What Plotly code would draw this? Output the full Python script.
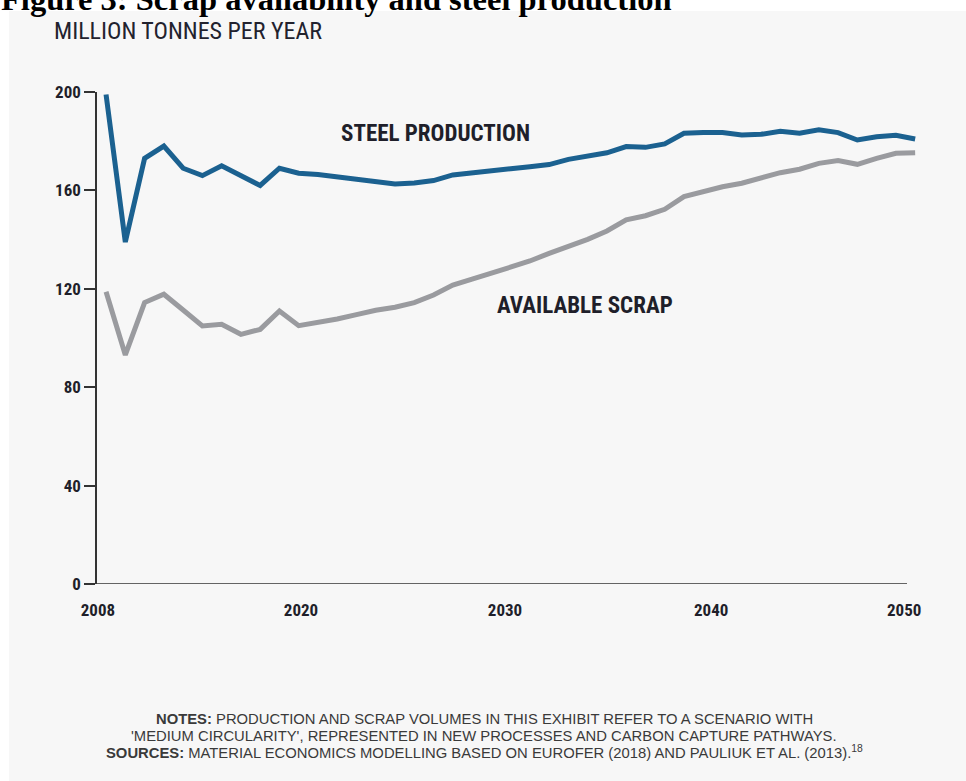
import plotly.graph_objects as go

years = list(range(2008, 2051))
steel_production = [199, 139, 173, 178, 169, 166, 170, 166, 162, 169,
                    167, 166.5, 165.5, 164.5, 164, 162.6, 163, 164, 166.3, 167.3,
                    168, 168.8, 169.6, 170.5, 172.6, 174, 175.3, 177.8, 177.5, 178.9,
                    183.2, 183.5, 183.5, 182.5, 182.8, 184, 183.2, 184.6, 183.5, 180.5,
                    181.8, 182.4, 180.9]
available_scrap = [118.8, 93.1, 114.4, 117.8, 111.4, 104.9, 105.6, 101.5, 103.5, 111.0,
                   105.0, 106.3, 107.7, 109.5, 111.3, 112.5, 114.4, 117.5, 121.5, 123.9,
                   126.3, 128.7, 131.3, 134.4, 137.1, 140.1, 143.5, 148.0, 149.7, 152.3,
                   157.5, 159.5, 161.5, 162.9, 164.9, 167.2, 168.6, 171.0, 172.1, 170.6,
                   173.0, 175.1, 175.3]
x_tick_positions = [2007.58, 2018.12, 2028.71, 2039.41, 2049.43]
x_tick_labels = ["2008", "2020", "2030", "2040", "2050"]
y_ticks = [0, 40, 80, 120, 160, 200]

note_lines = [
    "<b>NOTES:</b> PRODUCTION AND SCRAP VOLUMES IN THIS EXHIBIT REFER TO A SCENARIO WITH",
    "'MEDIUM CIRCULARITY', REPRESENTED IN NEW PROCESSES AND CARBON CAPTURE PATHWAYS.",
    "<b>SOURCES:</b> MATERIAL ECONOMICS MODELLING BASED ON EUROFER (2018) AND PAULIUK ET AL. (2013).<sup>18</sup>",
]

NARROW = "Liberation Sans Narrow, Arial Narrow, Roboto Condensed, DejaVu Sans Condensed, sans-serif"
SANS = "Liberation Sans, Arial, Helvetica, sans-serif"
BLUE = "#1b6190"
GREY = "#9a9b9f"
PANEL = "#f7f7f7"
AX = "#333333"

W, H = 966, 781
L, R, T, B = 97, 47, 92, 197
pw, ph = W - L - R, H - T - B

def px(x):
    return (x - L) / pw

def py(y):
    return (H - B - y) / ph

fig = go.Figure()
fig.add_trace(go.Scatter(x=years, y=available_scrap, mode="lines",
                         line=dict(color=GREY, width=5), name="Available scrap",
                         hoverinfo="x+y"))
fig.add_trace(go.Scatter(x=years, y=steel_production, mode="lines",
                         line=dict(color=BLUE, width=5), name="Steel production",
                         hoverinfo="x+y"))

annotations = [
    dict(text="<b>Figure 3: Scrap availability and steel production</b>", xref="paper", yref="paper",
         x=px(-1), y=py(19), xanchor="left", yanchor="bottom", showarrow=False,
         font=dict(family="Liberation Serif, Times New Roman, serif", size=32.5, color="black")),
    dict(text="MILLION TONNES PER YEAR", xref="paper", yref="paper",
         x=px(52), y=py(31), xanchor="left", yanchor="middle", showarrow=False,
         font=dict(family=NARROW, size=24, color="#22222e")),
    dict(text="<b>STEEL PRODUCTION</b>", xref="paper", yref="paper",
         x=px(435), y=py(133), xanchor="center", yanchor="middle", showarrow=False,
         font=dict(family=NARROW, size=23, color="#1f1f2a")),
    dict(text="<b>AVAILABLE SCRAP</b>", xref="paper", yref="paper",
         x=px(585), y=py(305), xanchor="center", yanchor="middle", showarrow=False,
         font=dict(family=NARROW, size=23, color="#1f1f2a")),
]
for text, ypix in zip(note_lines, [719, 735.5, 752]):
    annotations.append(dict(text=text, xref="paper", yref="paper", x=px(484), y=py(ypix),
                            xanchor="center", yanchor="middle", showarrow=False,
                            font=dict(family=SANS, size=14.8, color="#3a3a3a")))

fig.update_layout(
    width=W, height=H,
    margin=dict(l=L, r=R, t=T, b=B, pad=0),
    paper_bgcolor="white",
    plot_bgcolor="rgba(0,0,0,0)",
    showlegend=False,
    font=dict(family=NARROW, color="#222"),
    xaxis=dict(range=[2007.53, 2050.2], tickvals=x_tick_positions, ticktext=x_tick_labels,
               showgrid=False, zeroline=False, showline=False, ticks="",
               tickfont=dict(family=NARROW, size=17, color="#1f1f2a", weight="bold"),
               ticklabelstandoff=14),
    yaxis=dict(range=[0, 200], tickvals=y_ticks, showgrid=False, zeroline=False,
               showline=True, linecolor=AX, linewidth=1.5, ticks="outside", ticklen=11,
               tickcolor=AX, tickwidth=1.5,
               tickfont=dict(family=NARROW, size=17, color="#1f1f2a", weight="bold"),
               ticklabelstandoff=0),
    shapes=[
        dict(type="rect", xref="paper", yref="paper", x0=px(9), x1=px(980), y0=py(800), y1=py(11),
             fillcolor=PANEL, line=dict(width=0), layer="below"),
        dict(type="line", xref="paper", yref="y", x0=0, x1=px(907), y0=0, y1=0,
             line=dict(color=AX, width=1.5), layer="above"),
    ],
    annotations=annotations,
)

fig.write_html("out.html", config={"displayModeBar": False},
               post_script="document.body.style.margin='0';document.body.style.overflow='hidden';")
